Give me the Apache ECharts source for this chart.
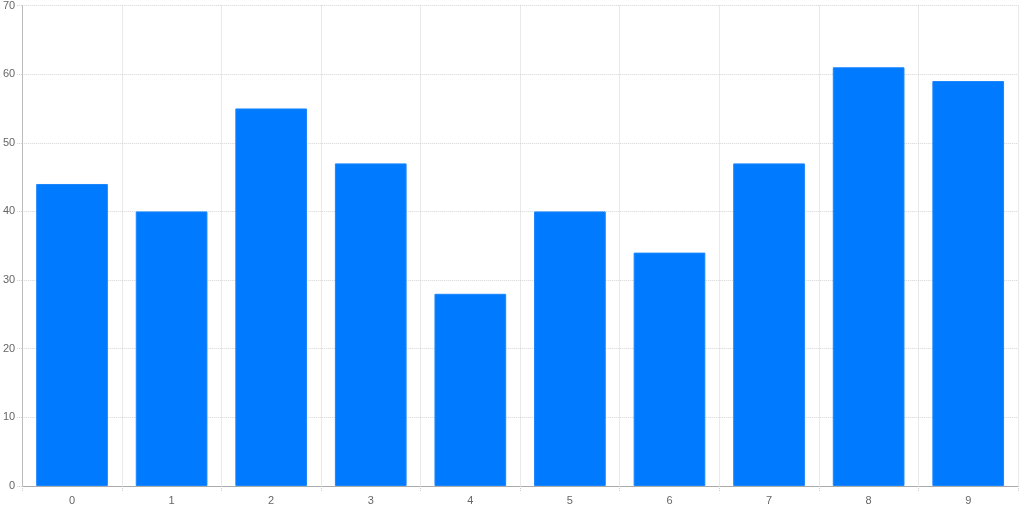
<!DOCTYPE html>
<html><head><meta charset="utf-8">
<script src="https://cdn.jsdelivr.net/npm/echarts@6/dist/echarts.min.js"></script>
<style>html,body{margin:0;padding:0;background:#fff}#c{width:1024px;height:512px}</style>
</head><body><div id="c"></div>
<script>
const categories = ['0','1','2','3','4','5','6','7','8','9'];
const values = [44, 40, 55, 47, 28, 40, 34, 47, 61, 59];
const yTicks = {min: 0, max: 70, interval: 10};

const chart = echarts.init(document.getElementById('c'), null, {renderer: 'canvas'});
chart.setOption({
  animation: false,
  grid: {left: 22, right: 6, top: 5, bottom: 26, containLabel: false},
  xAxis: {
    type: 'category', data: categories,
    axisLine: {show: true, lineStyle: {color: '#aaa', width: 1}},
    axisTick: {show: true, alignWithLabel: false, length: 5, lineStyle: {color: '#ccc', type: 'dotted'}},
    axisLabel: {color: '#666', fontSize: 11, fontFamily: 'Arial, Liberation Sans', margin: 9},
    splitLine: {show: true, lineStyle: {color: '#d4d4d4', type: 'dotted'}}
  },
  yAxis: {
    type: 'value', min: yTicks.min, max: yTicks.max, interval: yTicks.interval,
    axisLine: {show: true, lineStyle: {color: '#bbb', width: 1}},
    axisTick: {show: true, length: 5, lineStyle: {color: '#ccc', type: 'dotted'}},
    axisLabel: {color: '#666', fontSize: 11, fontFamily: 'Arial, Liberation Sans', margin: 7},
    splitLine: {show: true, lineStyle: {color: '#d4d4d4', type: 'dotted'}}
  },
  series: [{
    type: 'bar', data: values, barCategoryGap: '28%',
    itemStyle: {color: '#007bff', borderColor: '#1a86ff', borderWidth: 1}
  }]
});
</script></body></html>
